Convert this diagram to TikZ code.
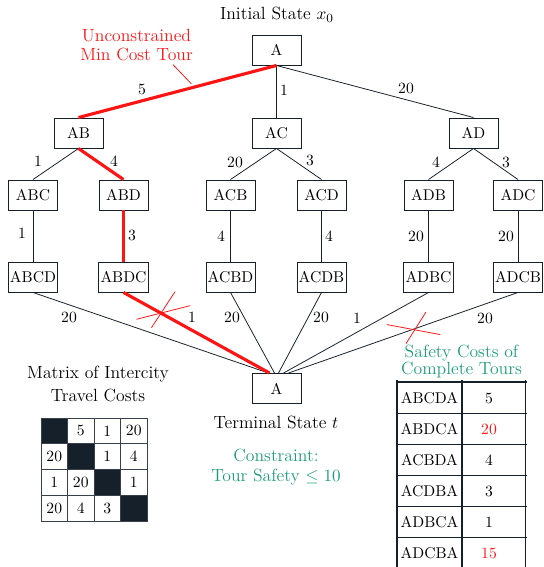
\documentclass[tikz,border=0pt]{standalone}
\usetikzlibrary{calc}
\definecolor{ink}{HTML}{15202B}
\definecolor{tourred}{HTML}{FF1414}
\definecolor{safegreen}{HTML}{1B9E77}
\begin{document}
\begin{tikzpicture}[x=0.64pt,y=-0.64pt,
  state/.style={draw=ink,line width=0.6pt,minimum width=31.4pt,minimum height=19.2pt,inner sep=1pt},
  link/.style={ink,line width=0.5pt},
  best/.style={tourred,line width=2pt},
  cut/.style={tourred,line width=0.5pt},
  cost/.style={inner sep=0pt},
  title/.style={inner sep=0pt,align=center,font=\fontsize{11.3}{12.2}\selectfont},
  cell/.style={draw=ink!85,line width=0.6pt,minimum width=16.96pt,minimum height=16.48pt,inner sep=0pt},
  diag/.style={cell,fill=ink},
  rule/.style={ink,line width=0.8pt},
  entry/.style={inner sep=0pt}]
\useasboundingbox (0,0) rectangle (543,567);

% ---- search tree ----
\node[title] (init) at (277,15) {Initial State $x_0$};
\node[state] (A0) at (276.5,50) {A};

\node[state] (AB) at (78.5,133) {AB};
\node[state] (AC) at (276.5,133) {AC};
\node[state] (AD) at (473.5,133) {AD};

\node[state] (ABC) at (33,195) {ABC};
\node[state] (ABD) at (123.5,195) {ABD};
\node[state] (ACB) at (230.5,195) {ACB};
\node[state] (ACD) at (321.5,195) {ACD};
\node[state] (ADB) at (428.5,195) {ADB};
\node[state] (ADC) at (518,195) {ADC};

\node[state] (ABCD) at (33,277) {ABCD};
\node[state] (ABDC) at (123.5,277) {ABDC};
\node[state] (ACBD) at (230.5,277) {ACBD};
\node[state] (ACDB) at (321.5,277) {ACDB};
\node[state] (ADBC) at (428.5,277) {ADBC};
\node[state] (ADCB) at (518,277) {ADCB};

\node[state] (T) at (276.5,388.5) {A};
\node[title] (term) at (276,422) {Terminal State $t$};

% ordinary edges
\draw[link] (A0.south) -- (AC.north);
\draw[link] (A0.south) -- (AD.north);
\draw[link] (AB.south) -- (ABC.north);
\draw[link] (AC.south) -- (ACB.north);
\draw[link] (AC.south) -- (ACD.north);
\draw[link] (AD.south) -- (ADB.north);
\draw[link] (AD.south) -- (ADC.north);
\draw[link] (ABC.south) -- (ABCD.north);
\draw[link] (ACB.south) -- (ACBD.north);
\draw[link] (ACD.south) -- (ACDB.north);
\draw[link] (ADB.south) -- (ADBC.north);
\draw[link] (ADC.south) -- (ADCB.north);
\draw[link] (ABCD.south) -- ($(T.north)+(-8,0)$);
\draw[link] (ACBD.south) -- ($(T.north)+(-2,0)$);
\draw[link] (ACDB.south) -- ($(T.north)+(2,0)$);
\draw[link] (ADBC.south) -- ($(T.north)+(7,0)$);
\draw[link] (ADCB.south) -- ($(T.north)+(12,0)$);

% cheapest tour
\draw[best] (A0.south) -- (AB.north);
\draw[best] (AB.south) -- (ABD.north);
\draw[best] (ABD.south) -- (ABDC.north);
\draw[best] (ABDC.south) -- ($(T.north)+(-7,0)$);

% edge costs
\node[cost] (c1) at (142,89) {5};
\node[cost] (c2) at (284,90) {1};
\node[cost] (c3) at (406,88) {20};
\node[cost] (c4) at (38,161) {1};
\node[cost] (c5) at (114,161) {4};
\node[cost] (c6) at (235,162) {20};
\node[cost] (c7) at (310,160) {3};
\node[cost] (c8) at (436,162) {4};
\node[cost] (c9) at (506,162) {3};
\node[cost] (c10) at (22,233) {1};
\node[cost] (c11) at (132,235) {3};
\node[cost] (c12) at (221,236) {4};
\node[cost] (c13) at (329,236) {4};
\node[cost] (c14) at (416,236) {20};
\node[cost] (c15) at (506,236) {20};
\node[cost] (c16) at (69,317) {20};
\node[cost] (c17) at (192,317) {1};
\node[cost] (c18) at (232,317) {20};
\node[cost] (c19) at (321,317) {20};
\node[cost] (c20) at (357,318) {1};
\node[cost] (c21) at (485,318) {20};

% unsafe tours struck out
\coordinate (x1) at (161.5,313);
\draw[cut] ($(x1)+(-25,6.3)$) -- ($(x1)+(28.5,-7.3)$);
\draw[cut] ($(x1)+(-10,14.7)$) -- ($(x1)+(13.5,-21.3)$);
\coordinate (x2) at (414.3,329.3);
\draw[cut] ($(x2)+(-27.3,-4.7)$) -- ($(x2)+(26,5.3)$);
\draw[cut] ($(x2)+(-8.3,14.3)$) -- ($(x2)+(11.7,-17.3)$);

% annotation of the cheapest tour
\node[title,text=tourred] (uc) at (136.5,45.5) {Unconstrained\\Min Cost Tour};
\draw[cut] ($(uc.south)+(36.5,3)$) -- ($(A0.south)!0.43!(AB.north)+(0,-4)$);

\node[title,text=safegreen,font=\fontsize{11.3}{12.8}\selectfont] (con) at (276,467) {Constraint:\\Tour Safety $\leq 10$};

% ---- intercity cost matrix ----
\node[title,font=\fontsize{11.3}{14.2}\selectfont] (mt) at (98,384) {Matrix of Intercity\\Travel Costs};
\foreach \r/\row in {1/{0,5,1,20},2/{20,0,1,4},3/{1,20,0,1},4/{20,4,3,0}}{
  \foreach \v [count=\c] in \row {
    \ifnum\r=\c
      \node[diag] (m-\r-\c) at ({41+26.5*(\c-0.5)},{418+25.75*(\r-0.5)}) {};
    \else
      \node[cell] (m-\r-\c) at ({41+26.5*(\c-0.5)},{418+25.75*(\r-0.5)}) {\v};
    \fi
  }
}

% ---- safety cost table ----
\node[title,text=safegreen,font=\fontsize{11.3}{10.7}\selectfont] (st) at (461.5,361.5) {Safety Costs of\\Complete Tours};
\foreach \x in {397,462,525.5} \draw[rule] (\x,380) -- (\x,575);
\foreach \y in {382,413.5,444.5,475.5,506.5,537.5,569} \draw[rule] (396,\y) -- (527,\y);
\foreach \t/\s/\col [count=\i] in {ABCDA/5/black,ABDCA/20/tourred,ACBDA/4/black,ACDBA/3/black,ADBCA/1/black,ADCBA/15/tourred}{
  \node[entry] (tour-\i) at (429.5,{398+31*(\i-1)}) {\t};
  \node[entry,text=\col] (safe-\i) at (489,{398+31*(\i-1)}) {\s};
}
\end{tikzpicture}
\end{document}
